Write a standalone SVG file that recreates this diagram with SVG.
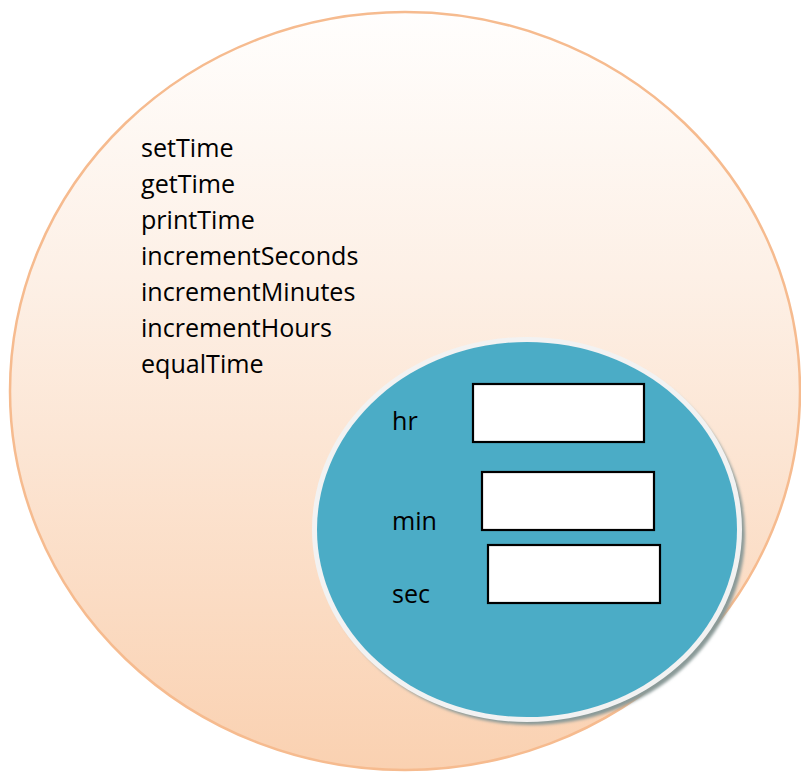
<svg xmlns="http://www.w3.org/2000/svg" width="801" height="773" viewBox="0 0 801 773">
<defs>
<linearGradient id="peach" x1="0" y1="0" x2="0" y2="1">
<stop offset="0" stop-color="#fffefd"/>
<stop offset="0.35" stop-color="#fdf0e6"/>
<stop offset="1" stop-color="#fad1b1"/>
</linearGradient>
<filter id="blur" x="-10%" y="-10%" width="120%" height="120%"><feGaussianBlur stdDeviation="1.5"/></filter>
</defs>
<style>
.t{font-family:"Open Sans","Liberation Sans",sans-serif;font-size:25.1px;fill:#000}
.box{fill:#fff;stroke:#000;stroke-width:2.2}
</style>
<rect width="801" height="773" fill="#fff"/>
<g id="outer">
<ellipse cx="405" cy="391" rx="395" ry="379" fill="url(#peach)" stroke="#f6bb8f" stroke-width="2.5"/>
<text class="t" x="141" y="157">setTime</text>
<text class="t" x="141" y="193">getTime</text>
<text class="t" x="141" y="229">printTime</text>
<text class="t" x="141" y="265">incrementSeconds</text>
<text class="t" x="141" y="301">incrementMinutes</text>
<text class="t" x="141" y="337">incrementHours</text>
<text class="t" x="141" y="373">equalTime</text>
</g>
<g id="inner">
<ellipse cx="531" cy="534" rx="214" ry="191" fill="#8a9a98" filter="url(#blur)"/>
<ellipse cx="527" cy="529.5" rx="215" ry="192.5" fill="#f2f2f2"/>
<ellipse cx="527" cy="529.5" rx="210" ry="187.5" fill="#4bacc6"/>
</g>
<g id="hr">
<text class="t" x="392" y="430">hr</text>
<rect class="box" x="473" y="384" width="171" height="58"/>
</g>
<g id="min">
<text class="t" x="392" y="530">min</text>
<rect class="box" x="482" y="472" width="172" height="58"/>
</g>
<g id="sec">
<text class="t" x="392" y="603">sec</text>
<rect class="box" x="488" y="545" width="172" height="58"/>
</g>
<g id="connectors"/>
</svg>
